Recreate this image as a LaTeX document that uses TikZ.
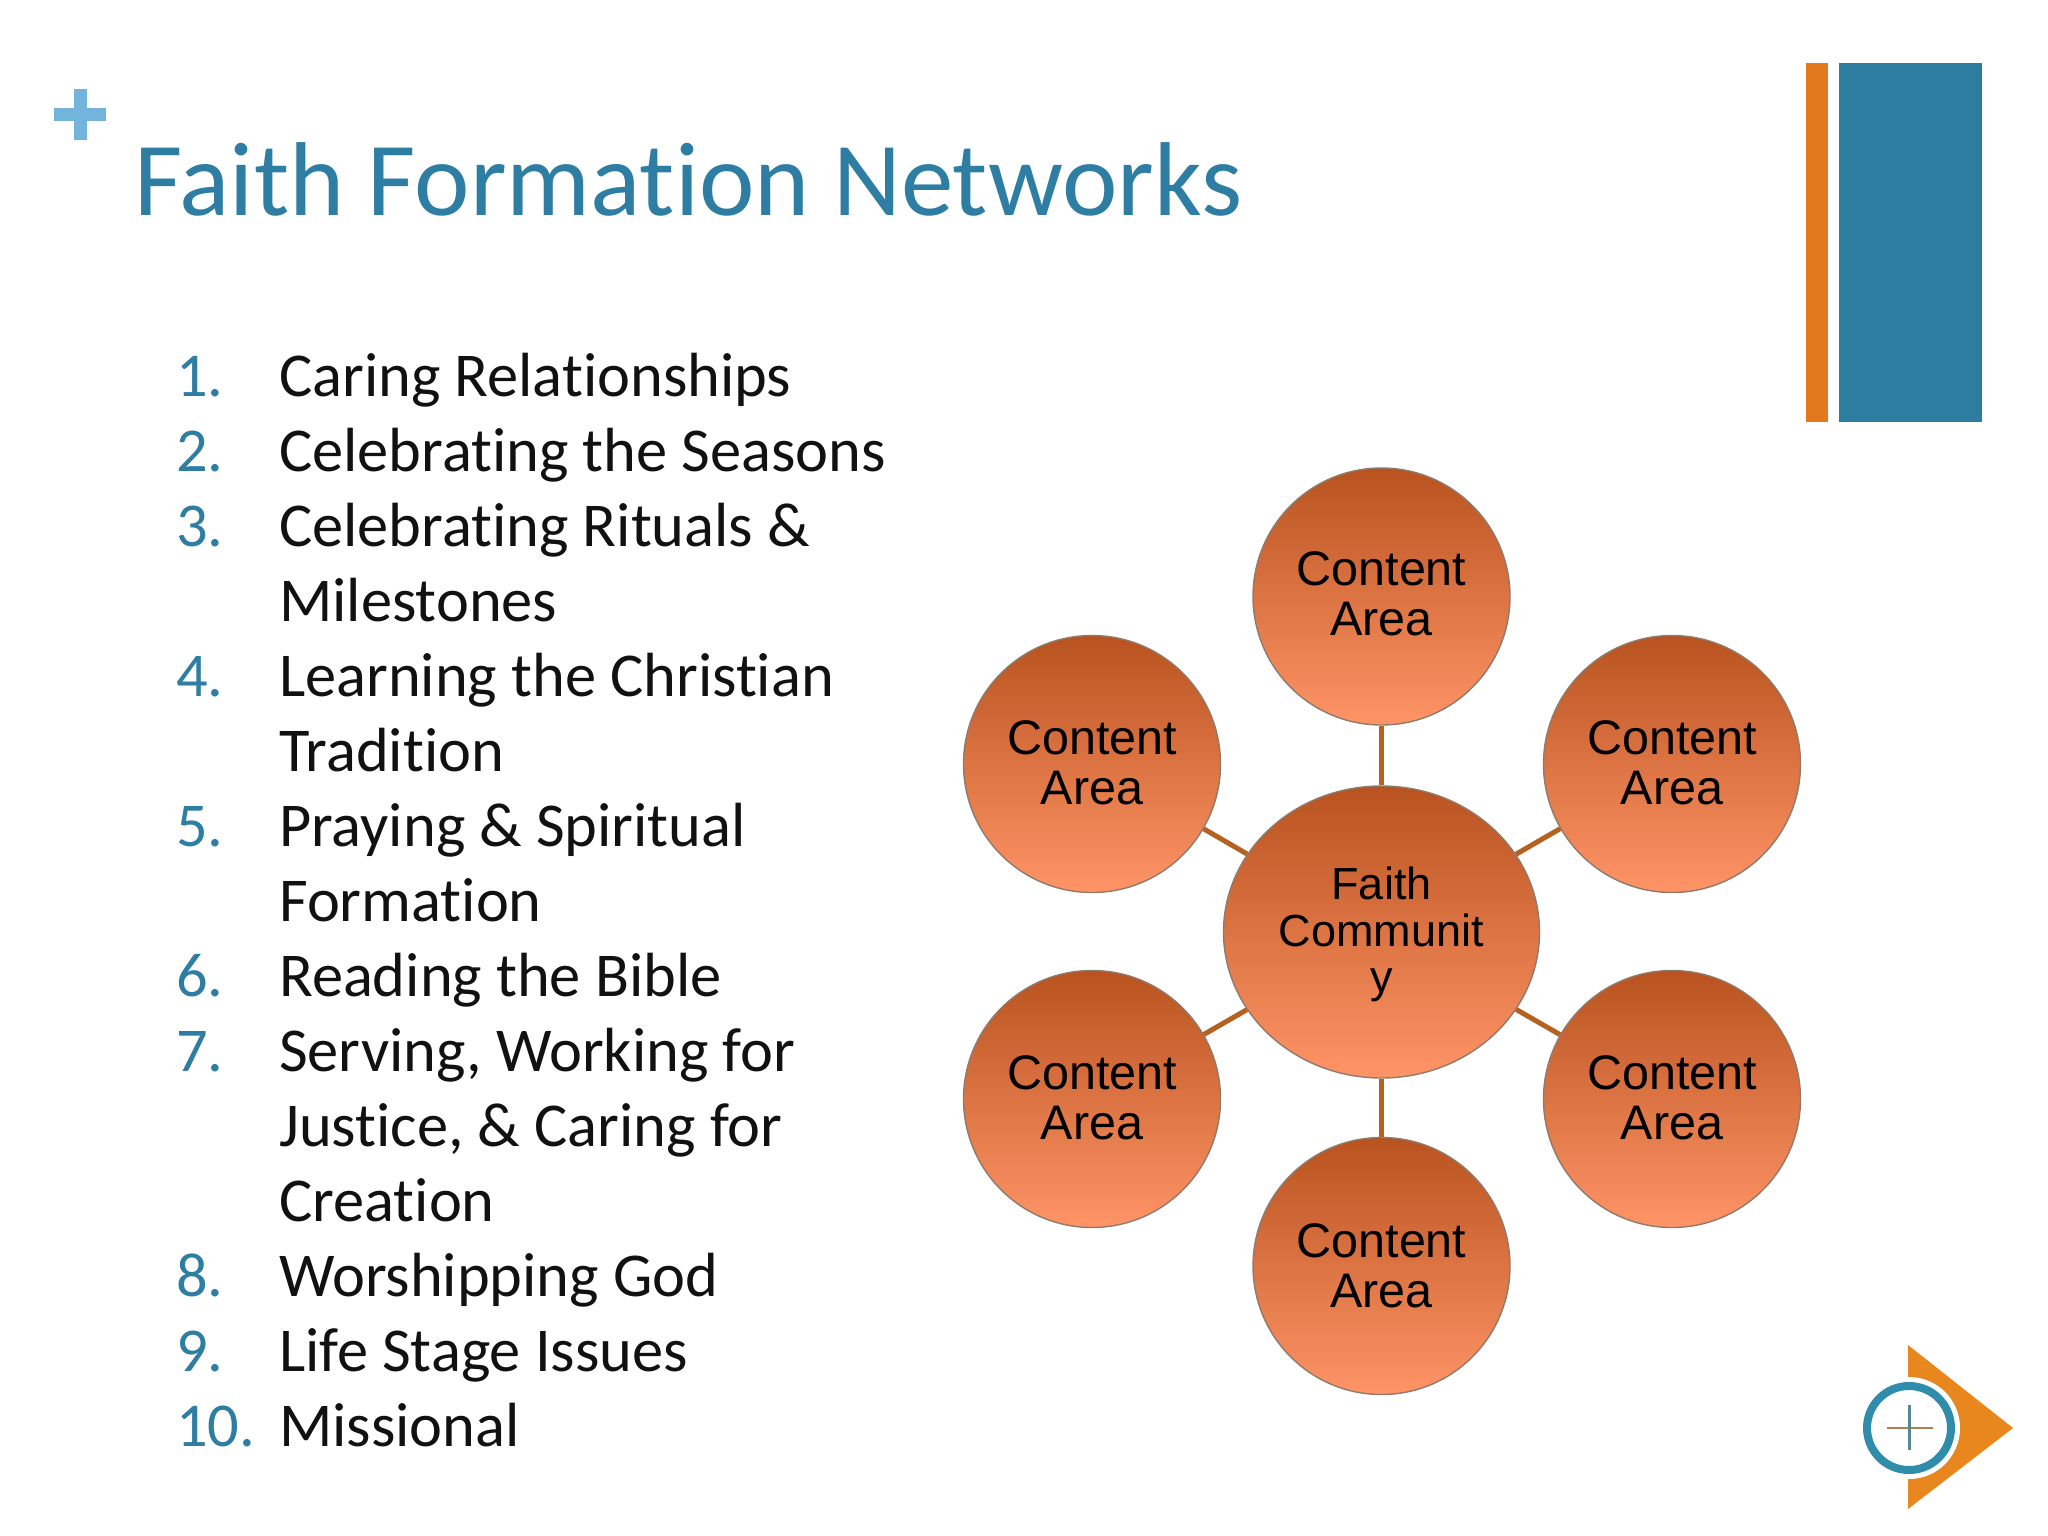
\documentclass[tikz,border=0pt]{standalone}
\usepackage{fontspec}
\setmainfont[Ligatures=NoCommon]{Carlito}
\newfontfamily\arialish{Liberation Sans}
\usetikzlibrary{shapes.geometric}
\definecolor{titleblue}{HTML}{2E7DA3}
\definecolor{numblue}{HTML}{2E7DA3}
\definecolor{plusblue}{HTML}{72B4DC}
\definecolor{barorange}{HTML}{E4781F}
\definecolor{barblue}{HTML}{2D7DA0}
\definecolor{linkbrown}{HTML}{B5611F}
\definecolor{ringgrey}{HTML}{8F7A6C}
\definecolor{logoorange}{HTML}{E8871E}
\definecolor{logoring}{HTML}{2F8CAB}
\definecolor{topball}{HTML}{B8531F}
\definecolor{botball}{HTML}{FF9466}
\definecolor{textblack}{HTML}{111111}
\newcommand\liftup[1]{\rule[-#1pt]{0pt}{1pt}}
\tikzset{
  x=1pt,y=-1pt,
  ball/.style={circle,draw=ringgrey,line width=1.4pt,top color=topball,bottom color=botball,minimum size=257pt,inner sep=0pt,align=center,font=\arialish\fontsize{48.5}{50}\selectfont,text=black},
  hub/.style={ellipse,draw=ringgrey,line width=1.4pt,top color=topball,bottom color=botball,minimum width=316pt,minimum height=292pt,inner sep=0pt,align=center,font=\arialish\fontsize{45}{46.5}\selectfont,text=black},
  link/.style={draw=linkbrown,line width=5pt},
  num/.style={anchor=base west,text=numblue,font=\fontsize{62.4}{75}\selectfont,inner sep=0pt},
  item/.style={anchor=base west,text=textblack,font=\fontsize{62.4}{75}\selectfont,inner sep=0pt},
}
\begin{document}
\begin{tikzpicture}
\useasboundingbox (0,0) rectangle (2048,1536);
\fill[white] (0,0) rectangle (2048,1536);
% plus mark
\fill[plusblue] (74,89) rectangle (86.5,140);
\fill[plusblue] (54,108) rectangle (106,121);
% bars
\fill[barorange] (1806,63) rectangle (1828,422);
\fill[barblue] (1839,63) rectangle (1982,422);
% title
\node[anchor=base west,inner sep=0pt,text=titleblue,font=\fontsize{105}{105}\selectfont] (title) at (134,215.5) {Faith Formation Networks};
% list
\node[num] (n1) at (176,396.5) {1.};
\node[item] (t1) at (279,396.5) {Caring Relationships};
\node[num] (n2) at (176,471.5) {2.};
\node[item] (t2) at (279,471.5) {Celebrating the Seasons};
\node[num] (n3) at (176,546.5) {3.};
\node[item] (t3) at (279,546.5) {Celebrating Rituals \&};
\node[item] (t3b) at (279,621.5) {Milestones};
\node[num] (n4) at (176,696.5) {4.};
\node[item] (t4) at (279,696.5) {Learning the Christian};
\node[item] (t4b) at (279,771.5) {Tradition};
\node[num] (n5) at (176,846.5) {5.};
\node[item] (t5) at (279,846.5) {Praying \& Spiritual};
\node[item] (t5b) at (279,921.5) {Formation};
\node[num] (n6) at (176,996.5) {6.};
\node[item] (t6) at (279,996.5) {Reading the Bible};
\node[num] (n7) at (176,1071.5) {7.};
\node[item] (t7) at (279,1071.5) {Serving, Working for};
\node[item] (t7b) at (279,1146.5) {Justice, \& Caring for};
\node[item] (t7c) at (279,1221.5) {Creation};
\node[num] (n8) at (176,1296.5) {8.};
\node[item] (t8) at (279,1296.5) {Worshipping God};
\node[num] (n9) at (176,1371.5) {9.};
\node[item] (t9) at (279,1371.5) {Life Stage Issues};
\node[num] (n10) at (176,1446.5) {10.};
\node[item] (t10) at (279,1446.5) {Missional};
% network
\node[hub] (c) at (1381.5,932) {\rule{0pt}{37.5pt}Faith\\Communit\\y};
\node[ball] (a1) at (1381.5,596.5) {Content\\Area\liftup{5}};
\node[ball] (a2) at (1672,764) {Content\\Area\liftup{2.6}};
\node[ball] (a3) at (1672,1099) {Content\\Area\liftup{2.6}};
\node[ball] (a4) at (1381.5,1266) {Content\\Area};
\node[ball] (a5) at (1092,1099) {Content\\Area\liftup{2.6}};
\node[ball] (a6) at (1092,764) {Content\\Area\liftup{2.6}};
\draw[link] (c) -- (a1);
\draw[link] (c) -- (a2);
\draw[link] (c) -- (a3);
\draw[link] (c) -- (a4);
\draw[link] (c) -- (a5);
\draw[link] (c) -- (a6);
% logo
\fill[logoorange] (1908,1345) -- (2013,1428) -- (1908,1509) -- cycle;
\fill[white] (1909,1428) circle[radius=51];
\draw[logoring,line width=8pt] (1909,1428) circle[radius=42];
\draw[color=brown!70!gray,line width=2.5pt] (1887,1428) -- (1933,1428);
\draw[color=logoring!50!gray,line width=3pt] (1909.5,1405) -- (1909.5,1450);
\end{tikzpicture}
\end{document}
